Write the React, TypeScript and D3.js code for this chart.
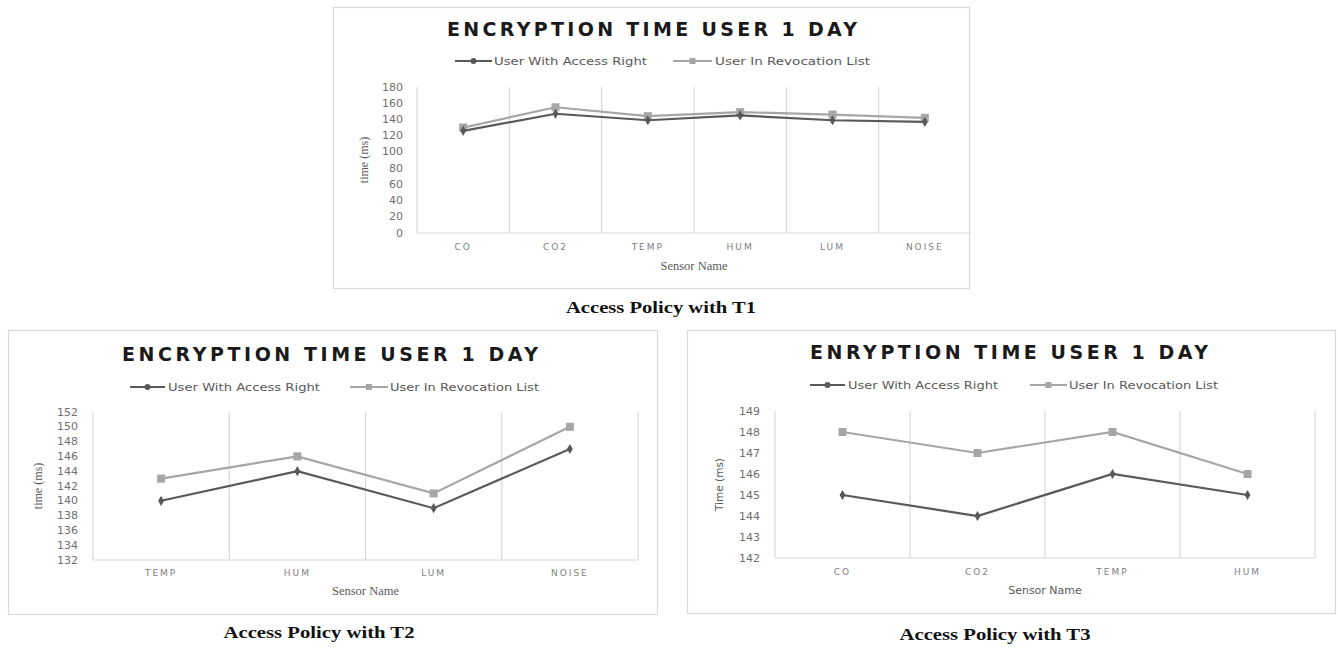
import React from "react";
import * as d3 from "d3";

// ---------- data ----------
const t1Categories = ["CO", "CO2", "TEMP", "HUM", "LUM", "NOISE"];
const t1Access = [126, 147, 139, 145, 139, 137];
const t1Revocation = [130, 155, 144, 149, 146, 142];
const t1Ticks = [0, 20, 40, 60, 80, 100, 120, 140, 160, 180];

const t2Categories = ["TEMP", "HUM", "LUM", "NOISE"];
const t2Access = [140, 144, 139, 147];
const t2Revocation = [143, 146, 141, 150];
const t2Ticks = [132, 134, 136, 138, 140, 142, 144, 146, 148, 150, 152];

const t3Categories = ["CO", "CO2", "TEMP", "HUM"];
const t3Access = [145, 144, 146, 145];
const t3Revocation = [148, 147, 148, 146];
const t3Ticks = [142, 143, 144, 145, 146, 147, 148, 149];

const seriesNames = ["User With Access Right", "User In Revocation List"];
const titleT1 = "ENCRYPTION TIME USER 1 DAY";
const titleT2 = "ENCRYPTION TIME USER 1 DAY";
const titleT3 = "ENRYPTION TIME USER 1 DAY";
const captions = ["Access Policy with T1", "Access Policy with T2", "Access Policy with T3"];

const DARK = "#595959";
const LIGHT = "#a6a6a6";
const GRID = "#d9d9d9";
const SANS = "'DejaVu Sans', 'Open Sans', sans-serif";
const SERIF = "'Liberation Serif', 'DejaVu Serif', serif";

type Layout = {
  box: { x: number; y: number; w: number; h: number };
  plot: { l: number; r: number; t: number; b: number };
  titleX: number; titleY: number; titleW: number; titleSize: number;
  legY: number;
  leg1: { x1: number; x2: number; tx: number; tw: number };
  leg2: { x1: number; x2: number; tx: number; tw: number };
  tickX: number; tickSize: number;
  yLabX: number; yLab: string; yLabSerif: boolean;
  catY: number;
  xLabY: number; xLabSerif: boolean;
  capX: number; capY: number; capW: number;
  rightGrid: boolean;
};

function Chart({
  cats, access, revoc, ticks, title, caption, L,
}: {
  cats: string[]; access: number[]; revoc: number[]; ticks: number[];
  title: string; caption: string; L: Layout;
}) {
  const x = d3.scaleBand<string>().domain(cats).range([L.plot.l, L.plot.r]).padding(0);
  const y = d3.scaleLinear().domain([ticks[0], ticks[ticks.length - 1]]).range([L.plot.b, L.plot.t]);
  const cx = (c: string) => (x(c) as number) + x.bandwidth() / 2;
  const line = d3.line<number>().x((_, i) => cx(cats[i])).y((v) => y(v));
  const bounds = cats.map((c) => x(c) as number);
  if (L.rightGrid) bounds.push(L.plot.r);
  const yMid = (L.plot.t + L.plot.b) / 2;
  const xMid = (L.plot.l + L.plot.r) / 2;
  return (
    <g>
      <rect x={L.box.x + 0.5} y={L.box.y + 0.5} width={L.box.w} height={L.box.h} fill="#fff" stroke={GRID} strokeWidth={1.2} />
      <text x={L.titleX} y={L.titleY} textAnchor="middle" dominantBaseline="central" fontFamily="'DejaVu Sans', sans-serif"
        fontWeight={700} fontSize={L.titleSize} fill="#1a1a1a" textLength={L.titleW} lengthAdjust="spacing">{title}</text>
      {/* legend */}
      <line x1={L.leg1.x1} x2={L.leg1.x2} y1={L.legY} y2={L.legY} stroke={DARK} strokeWidth={2} />
      <circle cx={(L.leg1.x1 + L.leg1.x2) / 2} cy={L.legY} r={3} fill={DARK} />
      <text x={L.leg1.tx} y={L.legY} dominantBaseline="central" fontFamily={SANS} fontSize={10.5} fill={DARK}
        textLength={L.leg1.tw} lengthAdjust="spacingAndGlyphs">{seriesNames[0]}</text>
      <line x1={L.leg2.x1} x2={L.leg2.x2} y1={L.legY} y2={L.legY} stroke={LIGHT} strokeWidth={2} />
      <rect x={(L.leg2.x1 + L.leg2.x2) / 2 - 3} y={L.legY - 3} width={6} height={6} fill={LIGHT} />
      <text x={L.leg2.tx} y={L.legY} dominantBaseline="central" fontFamily={SANS} fontSize={10.5} fill={DARK}
        textLength={L.leg2.tw} lengthAdjust="spacingAndGlyphs">{seriesNames[1]}</text>
      {/* grid */}
      {bounds.map((b, i) => (
        <line key={"g" + i} x1={b} x2={b} y1={L.plot.t} y2={L.plot.b} stroke={GRID} strokeWidth={1.2} />
      ))}
      <line x1={L.plot.l} x2={L.plot.r} y1={L.plot.b} y2={L.plot.b} stroke={GRID} strokeWidth={1.2} />
      {/* y ticks */}
      {ticks.map((t) => (
        <text key={"t" + t} x={L.tickX} y={y(t)} textAnchor="end" dominantBaseline="central" fontFamily={SANS}
          fontSize={L.tickSize} fill="#6f6f6f">{t}</text>
      ))}
      <text transform={`translate(${L.yLabX},${yMid}) rotate(-90)`} textAnchor="middle" dominantBaseline="central"
        fontFamily={L.yLabSerif ? SERIF : SANS} fontSize={L.yLabSerif ? 12 : 10.5} fill={DARK}>{L.yLab}</text>
      {/* categories */}
      {cats.map((c) => (
        <text key={"c" + c} x={cx(c)} y={L.catY} textAnchor="middle" dominantBaseline="central" fontFamily={SANS}
          fontSize={9} letterSpacing={2} fill="#7f7f7f">{c}</text>
      ))}
      <text x={xMid} y={L.xLabY} textAnchor="middle" dominantBaseline="central" fontFamily={L.xLabSerif ? SERIF : SANS}
        fontSize={L.xLabSerif ? 12.5 : 11} fill={DARK}>Sensor Name</text>
      {/* series */}
      <path d={line(revoc) || ""} fill="none" stroke={LIGHT} strokeWidth={2.2} />
      {revoc.map((v, i) => (
        <rect key={"r" + i} x={cx(cats[i]) - 4} y={y(v) - 4} width={8} height={8} fill={LIGHT} />
      ))}
      <path d={line(access) || ""} fill="none" stroke={DARK} strokeWidth={2.2} />
      {access.map((v, i) => (
        <path key={"a" + i} d={d3.symbol().type(d3.symbolDiamond).size(30)() || ""}
          transform={`translate(${cx(cats[i])},${y(v)})`} fill={DARK} />
      ))}
      <text x={L.capX} y={L.capY} textAnchor="middle" dominantBaseline="central" fontFamily={SERIF} fontWeight={700}
        fontSize={17} fill="#111" textLength={L.capW} lengthAdjust="spacingAndGlyphs">{caption}</text>
    </g>
  );
}

const L1: Layout = {
  box: { x: 333, y: 7, w: 636, h: 281 },
  plot: { l: 417, r: 971, t: 87, b: 233 },
  titleX: 652, titleY: 29, titleW: 410, titleSize: 19,
  legY: 61,
  leg1: { x1: 455, x2: 492, tx: 494, tw: 153 },
  leg2: { x1: 673, x2: 712, tx: 715, tw: 155 },
  tickX: 403, tickSize: 11,
  yLabX: 364, yLab: "time (ms)", yLabSerif: true,
  catY: 247,
  xLabY: 266, xLabSerif: true,
  capX: 661, capY: 307, capW: 190,
  rightGrid: false,
};

const L2: Layout = {
  box: { x: 8, y: 330, w: 649, h: 284 },
  plot: { l: 93, r: 638, t: 412, b: 560 },
  titleX: 330, titleY: 354, titleW: 416, titleSize: 19,
  legY: 387,
  leg1: { x1: 130, x2: 165, tx: 168, tw: 152 },
  leg2: { x1: 350, x2: 388, tx: 390, tw: 149 },
  tickX: 78, tickSize: 11,
  yLabX: 38, yLab: "time (ms)", yLabSerif: true,
  catY: 573,
  xLabY: 591, xLabSerif: true,
  capX: 319, capY: 632, capW: 191,
  rightGrid: true,
};

const L3: Layout = {
  box: { x: 687, y: 330, w: 648, h: 283 },
  plot: { l: 775, r: 1315, t: 411, b: 558 },
  titleX: 1009, titleY: 352, titleW: 398, titleSize: 19,
  legY: 385,
  leg1: { x1: 810, x2: 845, tx: 848, tw: 150 },
  leg2: { x1: 1030, x2: 1067, tx: 1069, tw: 149 },
  tickX: 760, tickSize: 11,
  yLabX: 719, yLab: "Time (ms)", yLabSerif: false,
  catY: 572,
  xLabY: 590, xLabSerif: false,
  capX: 995, capY: 634, capW: 191,
  rightGrid: true,
};

export default function App() {
  return (
    <svg width={1338} height={648} style={{ position: "absolute", left: 0, top: 0, background: "#fff" }}>
      <rect x={0} y={0} width={1338} height={648} fill="#fff" />
      <Chart cats={t1Categories} access={t1Access} revoc={t1Revocation} ticks={t1Ticks} title={titleT1} caption={captions[0]} L={L1} />
      <Chart cats={t2Categories} access={t2Access} revoc={t2Revocation} ticks={t2Ticks} title={titleT2} caption={captions[1]} L={L2} />
      <Chart cats={t3Categories} access={t3Access} revoc={t3Revocation} ticks={t3Ticks} title={titleT3} caption={captions[2]} L={L3} />
    </svg>
  );
}
